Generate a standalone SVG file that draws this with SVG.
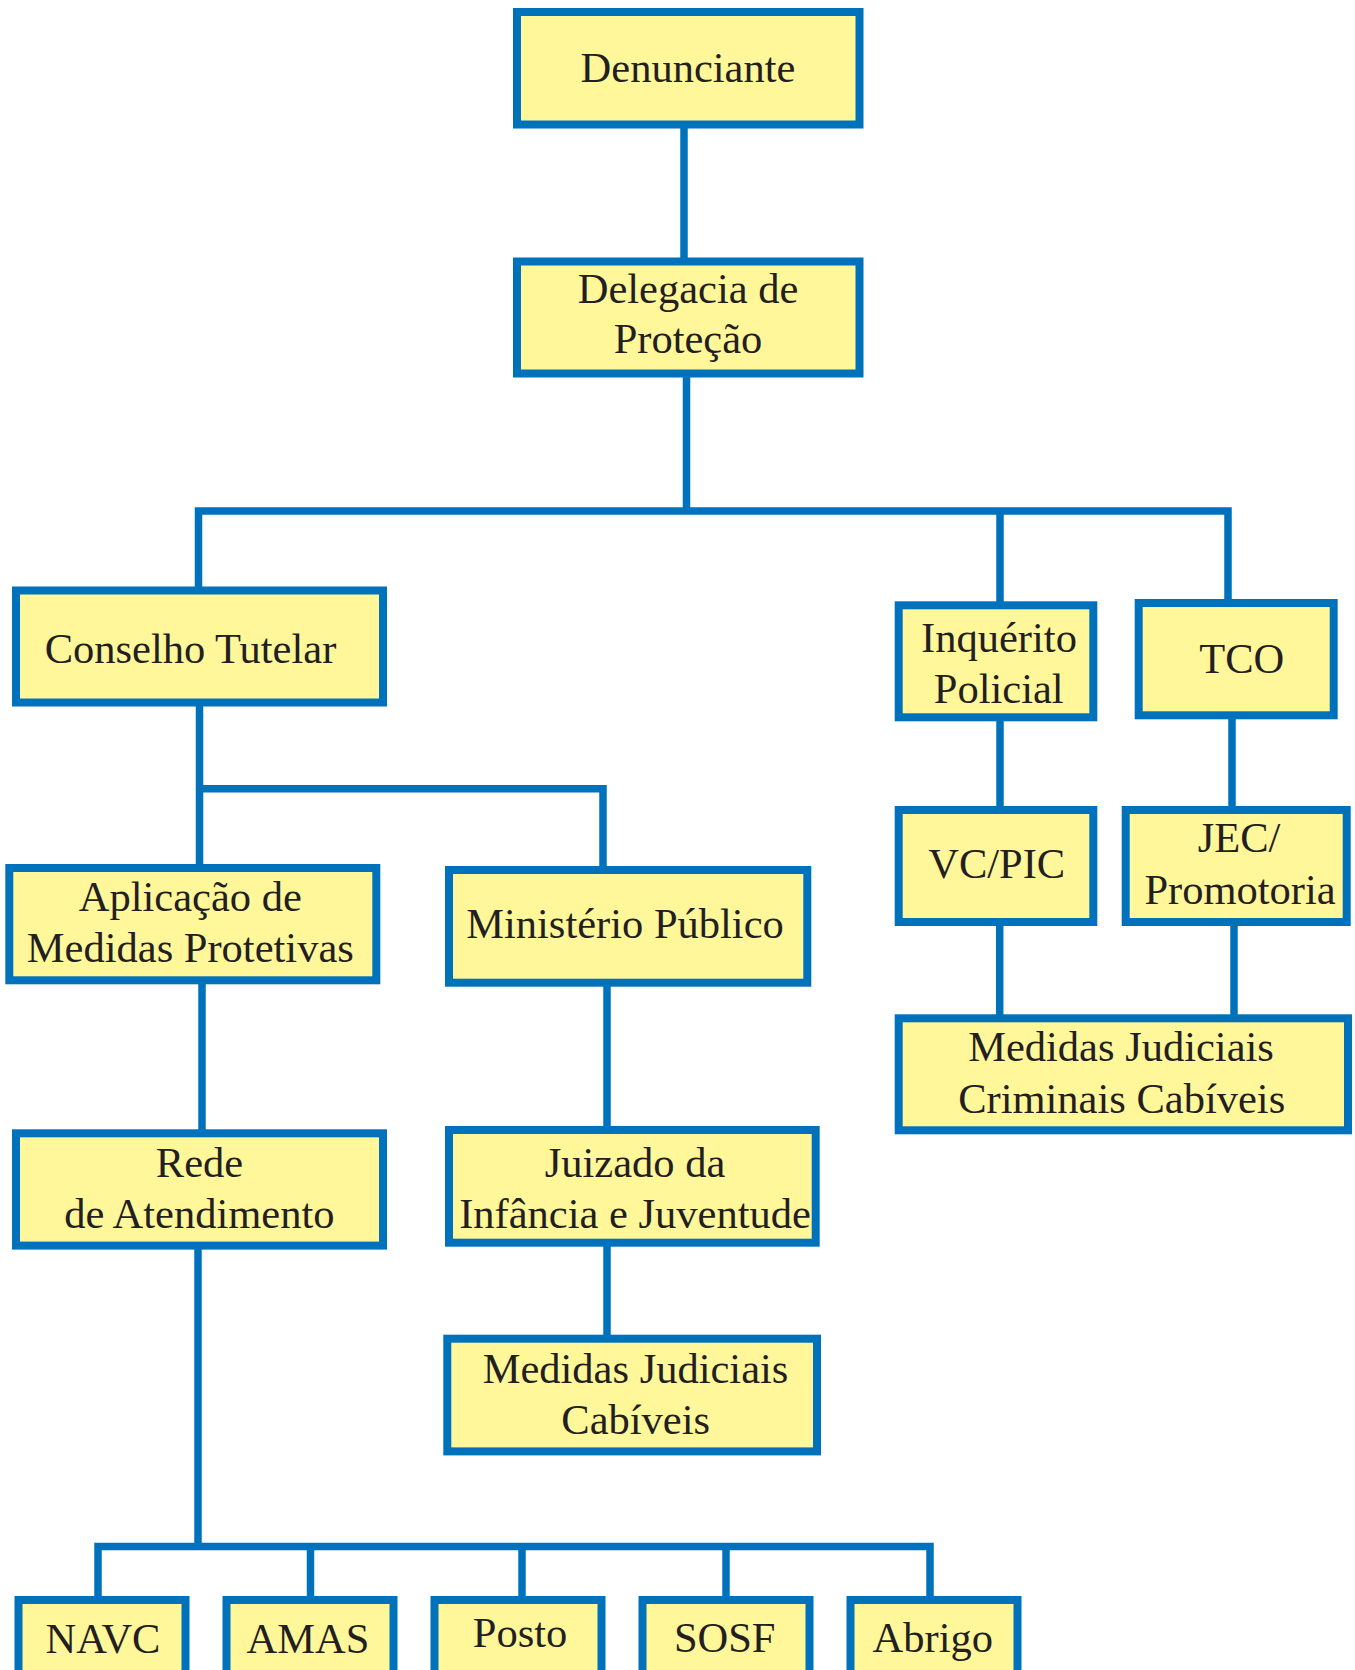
<svg xmlns="http://www.w3.org/2000/svg" width="1355" height="1670" viewBox="0 0 1355 1670">
<style>
.box{fill:#fff799;stroke:#0072bc;stroke-width:8}
.ln{fill:none;stroke:#0072bc;stroke-width:7.5;stroke-linejoin:miter;stroke-linecap:butt}
text{font-family:'Liberation Serif','Times New Roman',serif;font-size:42.5px;fill:#231f20;text-anchor:middle}
</style>
<rect width="1355" height="1670" fill="#ffffff"/>
<g id="connectors">
<path class="ln" d="M684,128 V258"/>
<path class="ln" d="M686.5,377 V511"/>
<path class="ln" d="M198.5,590 V511 H1228 V603"/>
<path class="ln" d="M1000,511 V605"/>
<path class="ln" d="M199.5,706 V864"/>
<path class="ln" d="M199.5,788.7 H603 V870"/>
<path class="ln" d="M202,984 V1133"/>
<path class="ln" d="M607,986 V1130"/>
<path class="ln" d="M607,1246 V1338"/>
<path class="ln" d="M1000,721 V810"/>
<path class="ln" d="M1232,719 V810"/>
<path class="ln" d="M999.7,926 V1018"/>
<path class="ln" d="M1234,926 V1018"/>
<path class="ln" d="M198,1249 V1546.5"/>
<path class="ln" d="M98,1600 V1546.5 H930 V1600"/>
<path class="ln" d="M310.5,1546.5 V1600"/>
<path class="ln" d="M522,1546.5 V1600"/>
<path class="ln" d="M726,1546.5 V1600"/>
</g>
<g id="denunciante"><rect class="box" x="517" y="12" width="342.5" height="112.5"/><text x="688" y="81.7">Denunciante</text></g>
<g id="delegacia"><rect class="box" x="517" y="261.5" width="342.5" height="112"/><text x="688" y="302.7">Delegacia de</text><text x="688" y="353.3">Proteção</text></g>
<g id="conselho"><rect class="box" x="16" y="590.5" width="367" height="112"/><text x="190.5" y="662.7">Conselho Tutelar</text></g>
<g id="inquerito"><rect class="box" x="898.7" y="605.3" width="194.6" height="112"/><text x="999" y="651.7">Inquérito</text><text x="998.7" y="702.7">Policial</text></g>
<g id="tco"><rect class="box" x="1138.7" y="603" width="195" height="112.3"/><text x="1241.7" y="672.7">TCO</text></g>
<g id="aplicacao"><rect class="box" x="9.3" y="868" width="367" height="112.3"/><text x="190.3" y="911.3">Aplicação de</text><text x="190.3" y="962">Medidas Protetivas</text></g>
<g id="ministerio"><rect class="box" x="449" y="870" width="358.3" height="112.7"/><text x="625" y="937.7">Ministério Público</text></g>
<g id="vcpic"><rect class="box" x="898.7" y="810" width="194.6" height="112"/><text x="996.7" y="877.7">VC/PIC</text></g>
<g id="jec"><rect class="box" x="1125.7" y="810" width="221" height="112"/><text x="1239" y="852.3">JEC/</text><text x="1240" y="904.3">Promotoria</text></g>
<g id="medidas-criminais"><rect class="box" x="898.7" y="1018.3" width="449.3" height="112"/><text x="1121" y="1060.7">Medidas Judiciais</text><text x="1121.7" y="1112.7">Criminais Cabíveis</text></g>
<g id="rede"><rect class="box" x="16" y="1133.3" width="367" height="112.3"/><text x="199.5" y="1176.7">Rede</text><text x="199.3" y="1227.7">de Atendimento</text></g>
<g id="juizado"><rect class="box" x="449" y="1130" width="366.7" height="112.7"/><text x="635" y="1176.7">Juizado da</text><text x="635" y="1227.7">Infância e Juventude</text></g>
<g id="medidas-cabiveis"><rect class="box" x="447.3" y="1338.7" width="369.7" height="112.7"/><text x="635.5" y="1382.7">Medidas Judiciais</text><text x="635.7" y="1434.3">Cabíveis</text></g>
<g id="navc"><rect class="box" x="18.5" y="1600" width="167" height="120"/><text x="103" y="1653.3">NAVC</text></g>
<g id="amas"><rect class="box" x="226.5" y="1600" width="167" height="120"/><text x="308" y="1652.5">AMAS</text></g>
<g id="posto"><rect class="box" x="434.5" y="1600" width="167" height="120"/><text x="520" y="1647.3">Posto</text></g>
<g id="sosf"><rect class="box" x="642.5" y="1600" width="167" height="120"/><text x="724.7" y="1651.7">SOSF</text></g>
<g id="abrigo"><rect class="box" x="850.5" y="1600" width="167" height="120"/><text x="932.8" y="1651.7">Abrigo</text></g>
</svg>
